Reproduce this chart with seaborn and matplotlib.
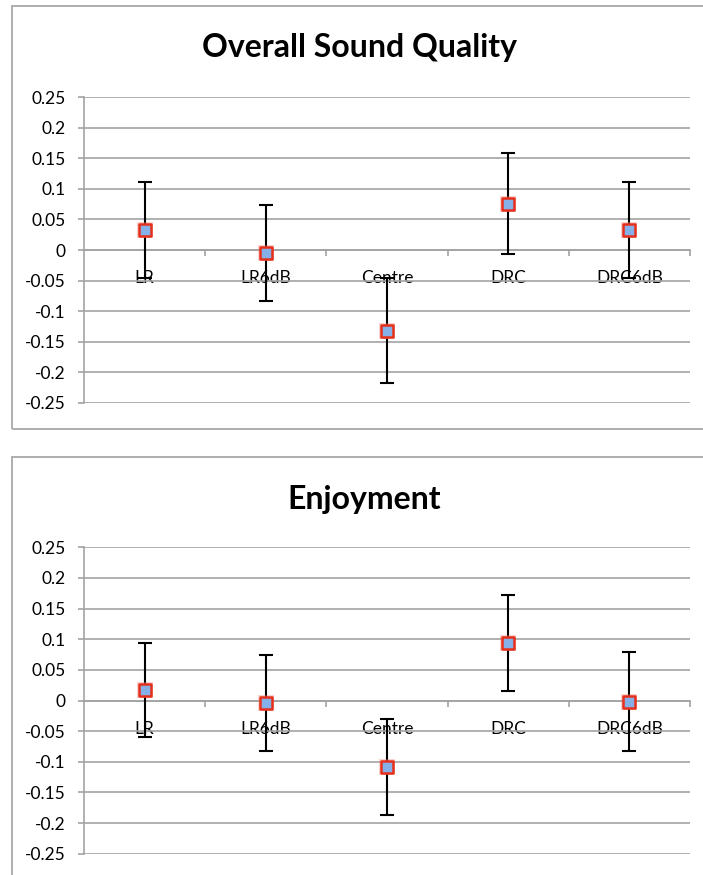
import matplotlib
matplotlib.use("Agg")
import matplotlib.pyplot as plt
import seaborn as sns
import pandas as pd
from matplotlib.patches import Rectangle

categories = ["LR", "LR6dB", "Centre", "DRC", "DRC6dB"]
quality_mean = [0.033, -0.005, -0.132, 0.076, 0.033]
quality_err = [0.079, 0.079, 0.086, 0.083, 0.079]
enjoy_mean = [0.017, -0.004, -0.109, 0.094, -0.002]
enjoy_err = [0.077, 0.078, 0.078, 0.079, 0.081]
titles = ["Overall Sound Quality", "Enjoyment"]
ytick_values = [0.25, 0.2, 0.15, 0.1, 0.05, 0, -0.05, -0.1, -0.15, -0.2, -0.25]
ytick_labels = ["0.25", "0.2", "0.15", "0.1", "0.05", "0", "-0.05", "-0.1", "-0.15", "-0.2", "-0.25"]

sns.set_theme(style="white")
plt.rcParams['font.family'] = ['Lato', 'DejaVu Sans']

W, H = 703, 875
fig = plt.figure(figsize=(W / 100, H / 100), dpi=100)

GRID = "#a3a3a3"
BORDER = "#a8a8a8"

# outer chart boxes (pixel coords: x0, y_top, x1, y_bottom)
boxes = [(12, 6, 730, 429), (12, 457, 730, 900)]
for x0, yt, x1, yb in boxes:
    r = Rectangle((x0 / W, 1 - yb / H), (x1 - x0) / W, (yb - yt) / H,
                  transform=fig.transFigure, fill=False, edgecolor=BORDER,
                  linewidth=1.3, clip_on=False)
    fig.patches.append(r)

axes_px = [(84, 97, 690, 403), (84, 547, 690, 854)]
title_px = [(360, 48), (364, 500)]
series = [(quality_mean, quality_err), (enjoy_mean, enjoy_err)]

for (l, t, rgt, b), (tx, ty), title, (means, errs) in zip(axes_px, title_px, titles, series):
    ax = fig.add_axes([l / W, 1 - b / H, (rgt - l) / W, (b - t) / H])
    df = pd.DataFrame({"category": categories, "value": means, "err": errs})
    pos = list(range(len(categories)))
    ax.errorbar(pos, df["value"], yerr=df["err"], fmt="none", ecolor="black",
                elinewidth=1.5, capsize=5, capthick=1.5, zorder=3)
    # soft glow beneath markers
    ax.scatter(pos, df["value"], marker="s", s=140, color="#f08070", alpha=0.35,
               linewidth=0, zorder=3.5)
    sns.scatterplot(data=df, x="category", y="value", marker="s", s=72,
                    color="#86b0e8", edgecolor="#e5301c", linewidth=1.8,
                    zorder=4, ax=ax, legend=False)
    ax.set_xlim(-0.5, len(categories) - 0.5)
    ax.set_ylim(-0.2506, 0.2506)
    ax.set_xlabel("")
    ax.set_ylabel("")
    ax.set_yticks(ytick_values)
    ax.set_yticklabels(ytick_labels)
    ax.yaxis.grid(True, color=GRID, linewidth=1.2)
    ax.xaxis.grid(False)
    ax.set_axisbelow(True)
    for s in ["top", "right"]:
        ax.spines[s].set_visible(False)
    ax.spines["left"].set_color(GRID)
    ax.spines["left"].set_linewidth(1.2)
    ax.spines["bottom"].set_position(("data", 0))
    ax.spines["bottom"].set_color(GRID)
    ax.spines["bottom"].set_linewidth(1.2)
    ax.set_xticks(pos)
    ax.set_xticklabels(categories)
    ax.set_xticks([p + 0.5 for p in pos], minor=True)
    ax.tick_params(axis="x", which="major", length=0, pad=14.5, labelsize=12.5,
                   labelcolor="black")
    ax.tick_params(axis="x", which="minor", bottom=True, length=4, width=1.2,
                   color=GRID, direction="out")
    ax.tick_params(axis="y", which="major", left=True, length=4, width=1.2,
                   color=GRID, direction="out", pad=9, labelsize=12.5,
                   labelcolor="black")
    for lab in ax.get_xticklabels():
        lab.set_zorder(1)
    fig.text(tx / W, 1 - ty / H, title, ha="center", va="center",
             fontsize=23, fontweight="bold", color="black")

fig.savefig("out.png", dpi=100)
